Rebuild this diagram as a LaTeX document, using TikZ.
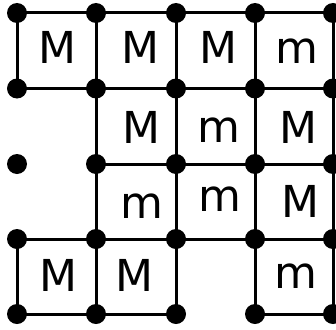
\documentclass[tikz,border=0pt]{standalone}
\usepackage{fontspec}
\setmainfont{DejaVu Sans}
\begin{document}
\begin{tikzpicture}[x=1pt,y=-1pt,
  dot/.style={circle,fill=black,inner sep=0pt,minimum size=20pt},
  edge/.style={line width=3pt},
  lbl/.style={anchor=base,inner sep=0pt,font=\fontsize{44}{44}\selectfont}]
\useasboundingbox (0,0) rectangle (336,329);
\foreach \i/\x in {0/17,1/96,2/176,3/255,4/333}
  \foreach \j/\y in {0/13,1/88.5,2/164,3/239,4/314}
    \coordinate (c\i\j) at (\x,\y);
% horizontal edges
\draw[edge] (c00) -- (c40);
\draw[edge] (c01) -- (c41);
\draw[edge] (c12) -- (c42);
\draw[edge] (c03) -- (c43);
\draw[edge] (c04) -- (c24);
\draw[edge] (c34) -- (c44);
% vertical edges
\draw[edge] (c00) -- (c01);
\draw[edge] (c03) -- (c04);
\draw[edge] (c10) -- (c14);
\draw[edge] (c20) -- (c24);
\draw[edge] (c30) -- (c34);
\draw[edge] (c40) -- (c44);
% dots
\foreach \i in {0,...,4}
  \foreach \j in {0,...,4}
    \node[dot] (d\i\j) at (c\i\j) {};
% labels
\node[lbl] (l11) at (57.5,63) {M};
\node[lbl] (l21) at (140,63) {M};
\node[lbl] (l31) at (218.5,63) {M};
\node[lbl] (l41) at (297,63) {m};
\node[lbl] (l22) at (141.5,143) {M};
\node[lbl] (l32) at (218.5,142) {m};
\node[lbl] (l42) at (298.5,143) {M};
\node[lbl] (l23) at (141.5,218) {m};
\node[lbl] (l33) at (219.5,211) {m};
\node[lbl] (l43) at (300,217) {M};
\node[lbl] (l14) at (58,291) {M};
\node[lbl] (l24) at (134.5,291) {M};
\node[lbl] (l44) at (296,288) {m};
\end{tikzpicture}
\end{document}
